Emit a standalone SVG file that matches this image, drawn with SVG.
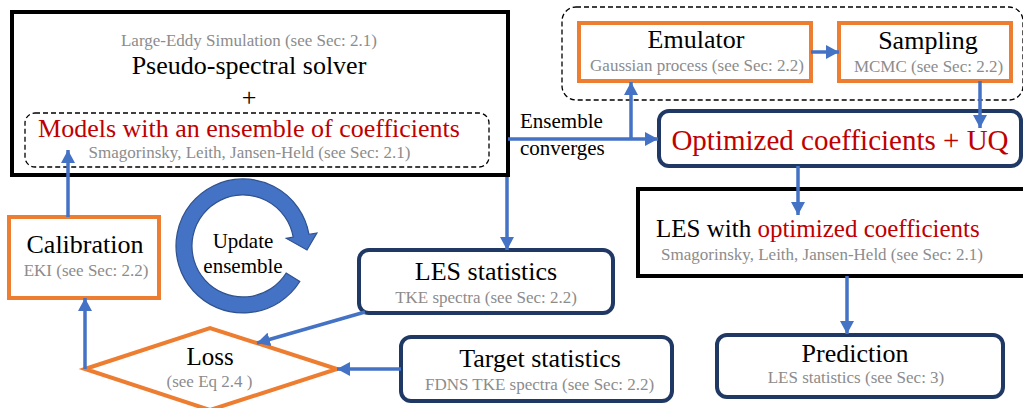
<svg xmlns="http://www.w3.org/2000/svg" width="1023" height="408" viewBox="0 0 1023 408">
<defs>
<style>
text{font-family:"Liberation Serif","Times New Roman",serif;fill:#000}
.t{font-size:26px;text-anchor:middle}
.s{font-size:17px;fill:#8C8C8C;text-anchor:middle}
.red{fill:#C00000}
.blk{fill:#fff;stroke:#000;stroke-width:4}
.org{fill:#fff;stroke:#ED7D31;stroke-width:4}
.nav{fill:#fff;stroke:#1F3864;stroke-width:4}
.dash{fill:none;stroke:#000;stroke-width:1.3;stroke-dasharray:5 3}
.c{stroke:#4472C4;stroke-width:3.5;fill:none}
.ca{stroke:#4472C4;stroke-width:3.5;fill:none;marker-end:url(#ah)}
</style>
<marker id="ah" markerUnits="userSpaceOnUse" markerWidth="14" markerHeight="14" refX="13" refY="7" orient="auto">
<path d="M0,0 L13,7 L0,14 z" fill="#4472C4"/>
</marker>
</defs>
<rect width="1023" height="408" fill="#fff"/>

<g id="les-main">
<rect class="blk" x="12" y="12" width="496" height="163"/>
<text class="s" x="249" y="46">Large-Eddy Simulation (see Sec: 2.1)</text>
<text class="t" x="249" y="74">Pseudo-spectral solver</text>
<text class="t" x="249" y="106">+</text>
<rect class="dash" x="25" y="113" width="464" height="54" rx="10"/>
<text class="t red" x="249" y="137">Models with an ensemble of coefficients</text>
<text class="s" x="249.5" y="158">Smagorinsky, Leith, Jansen-Held (see Sec: 2.1)</text>
</g>

<g id="uq-group">
<rect class="dash" x="562" y="7" width="461" height="93" rx="14"/>
</g>

<g id="emulator">
<rect class="org" x="579" y="23" width="232" height="58"/>
<text class="t" x="696" y="48">Emulator</text>
<text class="s" x="697" y="71">Gaussian process (see Sec: 2.2)</text>
</g>

<g id="sampling">
<rect class="org" x="839" y="23" width="172" height="58"/>
<text class="t" x="928" y="49">Sampling</text>
<text class="s" x="928.5" y="72">MCMC (see Sec: 2.2)</text>
</g>

<g id="optimized">
<rect class="nav" x="659" y="111" width="362" height="55" rx="10"/>
<text x="840" y="150" class="red" style="font-size:29px;text-anchor:middle">Optimized coefficients + UQ</text>
</g>

<g id="les-optimized">
<rect class="blk" x="638" y="189" width="390" height="87"/>
<text x="656" y="237" style="font-size:25px">LES with <tspan class="red">optimized coefficients</tspan></text>
<text class="s" x="822" y="260">Smagorinsky, Leith, Jansen-Held (see Sec: 2.1)</text>
</g>

<g id="prediction">
<rect class="nav" x="717" y="335" width="286" height="62" rx="10"/>
<text class="t" x="855" y="362">Prediction</text>
<text class="s" x="856" y="383">LES statistics (see Sec: 3)</text>
</g>

<g id="les-statistics">
<rect class="nav" x="359" y="250" width="254" height="63" rx="10"/>
<text class="t" x="486" y="280">LES statistics</text>
<text class="s" x="486" y="303">TKE spectra (see Sec: 2.2)</text>
</g>

<g id="target-statistics">
<rect class="nav" x="401" y="337" width="271" height="64" rx="10"/>
<text class="t" x="540" y="367">Target statistics</text>
<text class="s" x="539.5" y="390">FDNS TKE spectra (see Sec: 2.2)</text>
</g>

<g id="loss">
<polygon class="org" points="85,369 210,328 337,369 210,410"/>
<text x="210" y="365" style="font-size:25px;text-anchor:middle">Loss</text>
<text class="s" x="209.5" y="387">(see Eq 2.4 )</text>
</g>

<g id="calibration">
<rect class="org" x="9" y="217" width="150" height="81"/>
<text class="t" x="85" y="253">Calibration</text>
<text class="s" x="86" y="276">EKI (see Sec: 2.2)</text>
</g>

<g id="update-ensemble">
<path d="M299.8,281.5 A67,67 0 1 1 309.0,234.4 L316.9,233.0 L307,250 L286.3,238.4 L293.2,237.1 A51,51 0 1 0 286.2,273.0 Z" fill="#4472C4" stroke="#2F528F" stroke-width="1.2"/>
<text x="243" y="248" style="font-size:21px;text-anchor:middle">Update</text>
<text x="243" y="273" style="font-size:21px;text-anchor:middle">ensemble</text>
</g>

<g id="connectors">
<line class="ca" x1="68" y1="217" x2="68" y2="150"/>
<line class="ca" x1="85" y1="369" x2="85" y2="298"/>
<line class="ca" x1="507" y1="177" x2="507" y2="250"/>
<line class="ca" x1="365" y1="312" x2="257" y2="343"/>
<line class="ca" x1="401" y1="369" x2="337" y2="369"/>
<line class="ca" x1="508" y1="139" x2="658" y2="139"/>
<line class="ca" x1="631" y1="139" x2="631" y2="82"/>
<line class="ca" x1="811" y1="52" x2="839" y2="52"/>
<line class="ca" x1="980" y1="81" x2="980" y2="128"/>
<line class="ca" x1="798" y1="166" x2="798" y2="215"/>
<line class="ca" x1="847" y1="276" x2="847" y2="334"/>
<text x="520" y="128" style="font-size:21px">Ensemble</text>
<text x="520" y="155" style="font-size:21px">converges</text>
</g>
</svg>
